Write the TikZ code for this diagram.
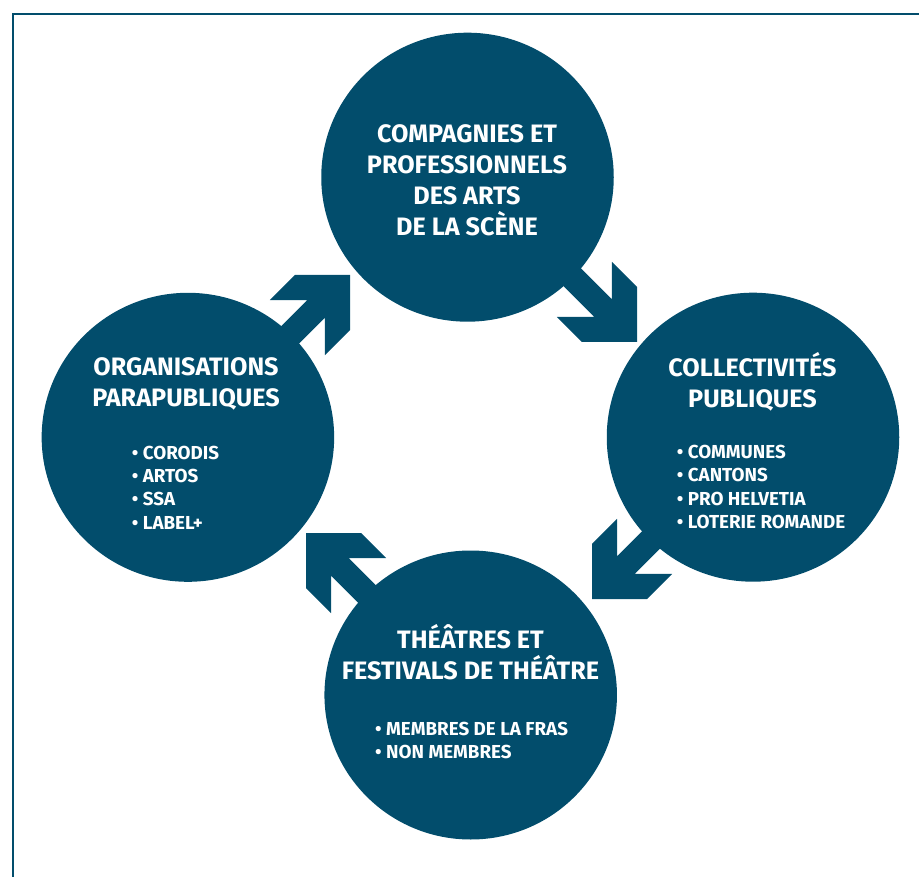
\documentclass[tikz,border=0pt]{standalone}
\usepackage{fontspec}
\newfontfamily\dfont{Fira Sans}
\usetikzlibrary{shapes.geometric}
\definecolor{navy}{HTML}{024D6C}
\begin{document}
\begin{tikzpicture}[x=1pt,y=-1pt,
  disc/.style={ellipse, fill=navy, minimum width=292.5pt, minimum height=289pt, inner sep=0pt},
  ttl/.style={text=white, font=\dfont\bfseries\fontsize{25.2}{30.8}\selectfont, align=center, anchor=base, inner sep=0pt},
  blist/.style={text=white, font=\dfont\bfseries\fontsize{18.8}{23.2}\selectfont, align=left, anchor=base west, inner sep=0pt},
  framebox/.style={draw=navy, line width=2.6pt},
  bigarrow/.pic={\fill[navy] (0,0) -- (-39,39) -- (-74.4,39) -- (-47.9,12.5) -- (-200,12.5) -- (-200,-12.5) -- (-47.9,-12.5) -- (-74.4,-39) -- (-39,-39) -- cycle;}
]
\useasboundingbox (0,0) rectangle (919,877);
\clip (0,0) rectangle (919,877);
\draw[framebox] (13,890) -- (13,14) -- (930,14);

\coordinate (tipUR) at (350,275);
\coordinate (tipDR) at (637,342);
\coordinate (tipDL) at (592,599);
\coordinate (tipUL) at (306,533);
\pic[rotate=45] at (tipUR) {bigarrow};
\pic[rotate=-45] at (tipDR) {bigarrow};
\pic[rotate=-135] at (tipDL) {bigarrow};
\pic[rotate=135] at (tipUL) {bigarrow};

\node[disc] (ctop) at (467.5,177.2) {};
\node[disc] (cleft) at (187.9,437.3) {};
\node[disc] (cright) at (753,437.2) {};
\node[disc] (cbot) at (470.7,695) {};

% anchors are at the baseline of the last line
\node[ttl] (ttop) at (467,235.3) {COMPAGNIES ET\\PROFESSIONNELS\\DES ARTS\\DE LA SCÈNE};
\node[ttl] (tleft) at (186,406.8) {ORGANISATIONS\\PARAPUBLIQUES};
\node[blist] (bleft) at (131.7,529) {• CORODIS\\• ARTOS\\• SSA\\• LABEL+};
\node[ttl] (tright) at (752.5,407) {COLLECTIVITÉS\\PUBLIQUES};
\node[blist] (bright) at (676.7,528.3) {• COMMUNES\\• CANTONS\\• PRO HELVETIA\\• LOTERIE ROMANDE};
\node[ttl] (tbot) at (470.5,679.3) {THÉÂTRES ET\\FESTIVALS DE THÉÂTRE};
\node[blist] (bbot) at (375,758.3) {• MEMBRES DE LA FRAS\\• NON MEMBRES};
\end{tikzpicture}
\end{document}
